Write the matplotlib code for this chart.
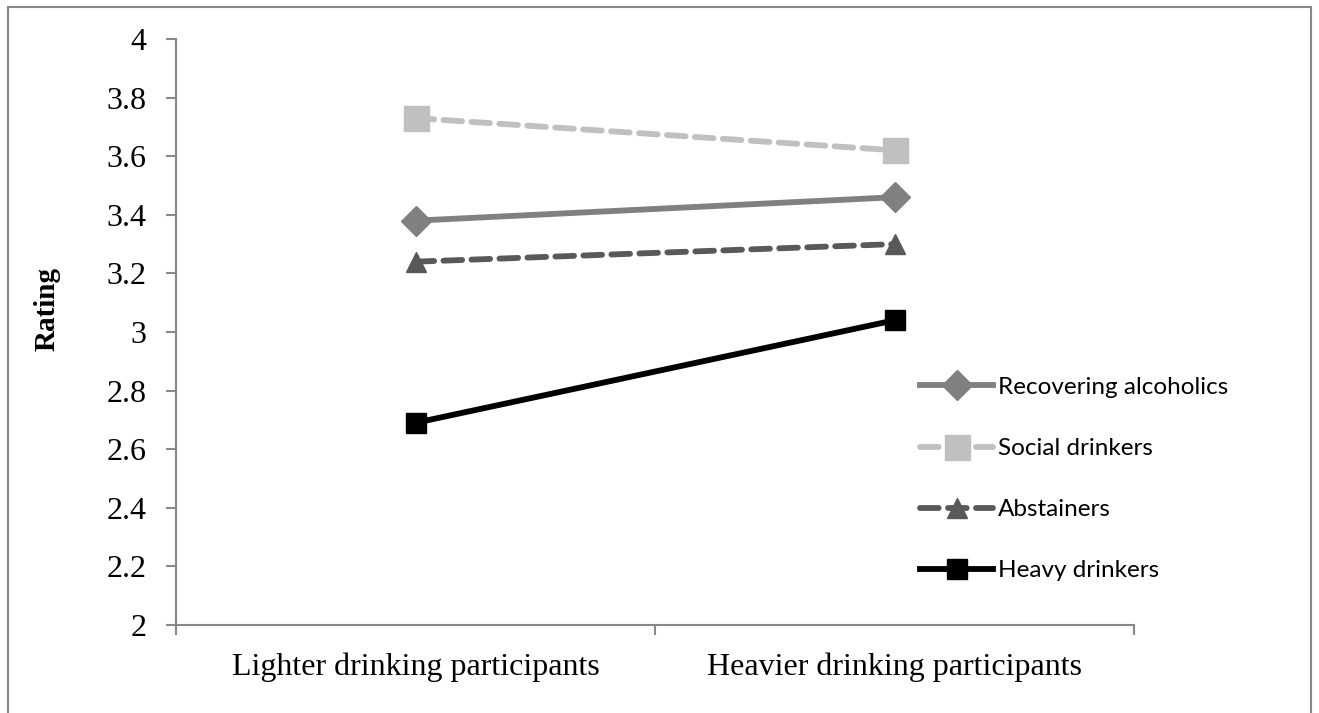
import matplotlib
matplotlib.use("Agg")
import matplotlib.pyplot as plt
from matplotlib.patches import Rectangle

groups = ["Lighter drinking participants", "Heavier drinking participants"]
recovering = [3.38, 3.46]
social = [3.73, 3.62]
abstainers = [3.24, 3.30]
heavy = [2.69, 3.04]
y_ticks = [2, 2.2, 2.4, 2.6, 2.8, 3, 3.2, 3.4, 3.6, 3.8, 4]

fig = plt.figure(figsize=(13.19, 7.13), dpi=100)
ax = fig.add_axes([176 / 1319, 1 - 625 / 713, (1134 - 176) / 1319, (625 - 39) / 713])

# outer frame around the whole chart
fig.patches.append(Rectangle((8 / 1319, -0.05), (1311 - 8) / 1319, 1 - 7 / 713 + 0.05,
                             transform=fig.transFigure, fill=False,
                             edgecolor="#888888", linewidth=1.5))

x = [0, 1]
lw = 4.2
dash = (0, (3.2, 1.6))
ax.plot(x, recovering, color="#808080", lw=lw, marker="D", ms=15,
        label="Recovering alcoholics")
ax.plot(x, social, color="#c0c0c0", lw=lw, ls=dash, dash_capstyle="round",
        marker="s", ms=18, label="Social drinkers")
ax.plot(x, abstainers, color="#595959", lw=lw, ls=dash, dash_capstyle="round",
        marker="^", ms=15, label="Abstainers")
ax.plot(x, heavy, color="black", lw=lw, marker="s", ms=15,
        label="Heavy drinkers")

ax.set_xlim(-0.5, 1.5)
ax.set_ylim(2, 4)
ax.set_yticks(y_ticks)
ax.set_yticklabels([f"{v:g}" for v in y_ticks])
ax.set_xticks([-0.5, 0.5, 1.5])
ax.set_xticklabels([])
ax.set_xticks(x, minor=True)
ax.set_xticklabels(groups, minor=True)

serif = "Liberation Serif"
for lab in ax.get_yticklabels():
    lab.set_fontfamily(serif)
    lab.set_fontsize(23)
for lab in ax.get_xticklabels(minor=True):
    lab.set_fontfamily(serif)
    lab.set_fontsize(23)

ax.tick_params(axis="y", direction="out", length=7, width=1.5, color="#888888", pad=14)
ax.tick_params(axis="x", which="major", direction="out", length=7, width=1.5, color="#888888")
ax.tick_params(axis="x", which="minor", length=0, pad=20)

for s in ["top", "right"]:
    ax.spines[s].set_visible(False)
for s in ["left", "bottom"]:
    ax.spines[s].set_color("#888888")
    ax.spines[s].set_linewidth(1.5)

ax.set_ylabel("Rating", fontfamily=serif, fontsize=21, fontweight="bold")
ax.yaxis.set_label_coords(-0.12, 0.54)

ax.legend(loc="center left", bbox_to_anchor=(0.777, 0.249), frameon=False,
          prop={"family": "Lato", "size": 17.5}, handlelength=3.0,
          labelspacing=1.65, handletextpad=0.2, borderpad=0, borderaxespad=0)

fig.savefig("out.png", dpi=100)
